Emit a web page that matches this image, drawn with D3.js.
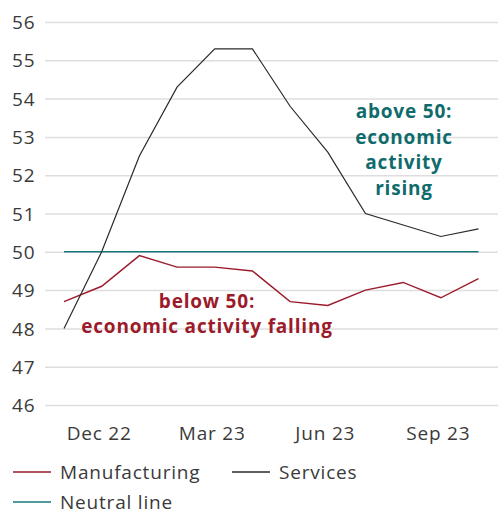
<!DOCTYPE html>
<html>
<head>
<meta charset="utf-8">
<style>
  body { margin: 0; background: #fff; }
  text { font-family: "Open Sans", sans-serif; letter-spacing: 0.8px; }
</style>
<script src="https://cdn.jsdelivr.net/npm/d3@7"></script>
</head>
<body>
<svg id="chart" width="498" height="509"></svg>
<script>
var months = ["Nov 22", "Dec 22", "Jan 23", "Feb 23", "Mar 23", "Apr 23", "May 23", "Jun 23", "Jul 23", "Aug 23", "Sep 23", "Oct 23"];
var manufacturing = [48.7, 49.1, 49.9, 49.6, 49.6, 49.5, 48.7, 48.6, 49.0, 49.2, 48.8, 49.3];
var services = [48.0, 50.0, 52.5, 54.3, 55.3, 55.3, 53.8, 52.6, 51.0, 50.7, 50.4, 50.6];
var neutral = [50, 50, 50, 50, 50, 50, 50, 50, 50, 50, 50, 50];
var yTicks = [46, 47, 48, 49, 50, 51, 52, 53, 54, 55, 56];
var xTickLabels = ["Dec 22", "Mar 23", "Jun 23", "Sep 23"];

var svg = d3.select("#chart");

var x = d3.scalePoint().domain(months).range([64, 478.5]);
var y = d3.scaleLinear().domain([46, 56]).range([405, 22]);

// grid + y labels
var yAxis = svg.append("g")
    .attr("transform", "translate(45,0)")
    .call(d3.axisRight(y).tickValues(yTicks).tickSize(453).tickFormat(d3.format("d")));
yAxis.select(".domain").remove();
yAxis.selectAll(".tick line").attr("stroke", "#dedede").attr("stroke-width", 1.5);
yAxis.selectAll(".tick text")
    .attr("x", -33)
    .attr("dy", "0.35em")
    .attr("text-anchor", "start")
    .attr("fill", "#3a3a3a")
    .style("font-size", "19px");

// x labels
var xAxis = svg.append("g")
    .attr("transform", "translate(-3,423)")
    .call(d3.axisBottom(x).tickValues(xTickLabels).tickSize(0));
xAxis.select(".domain").remove();
xAxis.selectAll(".tick text")
    .attr("fill", "#3a3a3a")
    .style("font-size", "19px");

var line = d3.line()
    .x(function(d, i) { return x(months[i]); })
    .y(function(d) { return y(d); });

svg.append("path").datum(neutral)
    .attr("d", line).attr("fill", "none")
    .attr("stroke", "#17787a").attr("stroke-width", 1.6);
svg.append("path").datum(manufacturing)
    .attr("d", line).attr("fill", "none")
    .attr("stroke", "#9b1b2b").attr("stroke-width", 1.4);
svg.append("path").datum(services)
    .attr("d", line).attr("fill", "none")
    .attr("stroke", "#2a2a2a").attr("stroke-width", 1.2);

// annotations
var above = ["above 50:", "economic", "activity", "rising"];
svg.append("g").selectAll("text")
    .data(above).enter().append("text")
    .attr("x", 404)
    .attr("y", function(d, i) { return 118 + i * 25.5; })
    .attr("text-anchor", "middle")
    .attr("fill", "#0f6b6c")
    .attr("font-weight", "bold")
    .style("font-size", "19px")
    .text(function(d) { return d; });

var below = ["below 50:", "economic activity falling"];
svg.append("g").selectAll("text")
    .data(below).enter().append("text")
    .attr("x", 207)
    .attr("y", function(d, i) { return 308 + i * 25; })
    .attr("text-anchor", "middle")
    .attr("fill", "#9b1b2b")
    .attr("font-weight", "bold")
    .style("font-size", "19px")
    .text(function(d) { return d; });

// legend
var legendItems = [
  {name: "Manufacturing", color: "#9b1b2b", x: 13, y: 472},
  {name: "Services", color: "#2a2a2a", x: 232, y: 472},
  {name: "Neutral line", color: "#17787a", x: 13, y: 502}
];
var legend = svg.append("g").selectAll("g")
    .data(legendItems).enter().append("g")
    .attr("transform", function(d) { return "translate(" + d.x + "," + d.y + ")"; });
legend.append("line")
    .attr("x1", 0).attr("x2", 38)
    .attr("stroke", function(d) { return d.color; })
    .attr("stroke-width", 1.4);
legend.append("text")
    .attr("x", 47)
    .attr("dy", "0.35em")
    .attr("fill", "#3a3a3a")
    .style("font-size", "19px")
    .text(function(d) { return d.name; });
</script>
</body>
</html>
